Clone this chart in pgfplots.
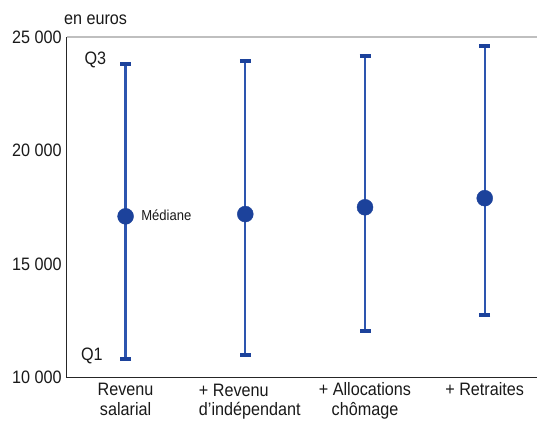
\documentclass[border=0pt]{standalone}
\usepackage{pgfplots}
\pgfplotsset{compat=1.18}
\usepackage{pgfplotstable}
\usepackage{fontspec}
\setmainfont{Liberation Sans}[FakeStretch=0.9]
\definecolor{bl}{RGB}{28,66,155}
\definecolor{bll}{RGB}{45,85,175}
\pgfplotstableread{
x q1 med q3 ep em
0 10800 17100 23800 6700 6300
1 11000 17200 23950 6750 6200
2 12050 17500 24150 6650 5450
3 12770 17900 24600 6700 5130
}\data
\begin{document}
\fontsize{18bp}{20bp}\selectfont
\begin{tikzpicture}
\begin{axis}[
 scale only axis, width=471bp, height=341bp,
 xmin=-0.49, xmax=3.44, ymin=10000, ymax=25000,
 scaled y ticks=false, scaled x ticks=false,
 axis x line*=bottom, axis y line*=left,
 axis line style={-, line width=1bp, black!85},
 xtick={0,1,2,3},
 xticklabels={Revenu\\salarial, {\hspace*{9bp}\begin{tabular}{@{}l@{}}+ Revenu\\[-1bp]d’indépendant\end{tabular}}, + Allocations\\chômage, + Retraites},
 ytick={10000,15000,20000,25000},
 yticklabels={10 000,15 000,20 000,25 000},
 major tick length=0pt,
 tick label style={font=\fontsize{18bp}{20bp}\selectfont, text=black!90},
 xticklabel style={align=center, anchor=north, inner sep=0pt, yshift=-5bp},
 yticklabel style={anchor=east, inner sep=0pt, xshift=-5bp},
 clip=false,
]
\path ([xshift=-67bp,yshift=-47bp]rel axis cs:0,0) rectangle ([yshift=37bp]rel axis cs:1,1);
\draw[gray!50, line width=1.2bp] (rel axis cs:0,1) -- (rel axis cs:1,1);
\addplot[draw=none, mark=none, forget plot,
  error bars/.cd, y dir=both, y explicit,
  error bar style={draw=bll, line width=2.2bp},
  error mark=|,
  error mark options={draw=bl, line width=4bp, mark size=5.5bp}]
  table[x=x, y=med, y error plus=ep, y error minus=em] {\data};
\addplot[only marks, mark=*, mark size=8bp, mark options={fill=bl, draw=bl}]
  table[x=x, y=med] {\data};
\node[anchor=east, text=black!90] at (axis cs:-0.11,23990) {Q3};
\node[anchor=east, text=black!90] at (axis cs:-0.14,10960) {Q1};
\node[anchor=west, text=black!90, font=\fontsize{14.5bp}{16bp}\selectfont] at (axis cs:0.08,17170) {Médiane};
\node[anchor=base west, text=black!90, inner sep=0pt] at ([xshift=-3bp, yshift=12bp]rel axis cs:0,1) {en euros};
\end{axis}
\end{tikzpicture}
\end{document}
